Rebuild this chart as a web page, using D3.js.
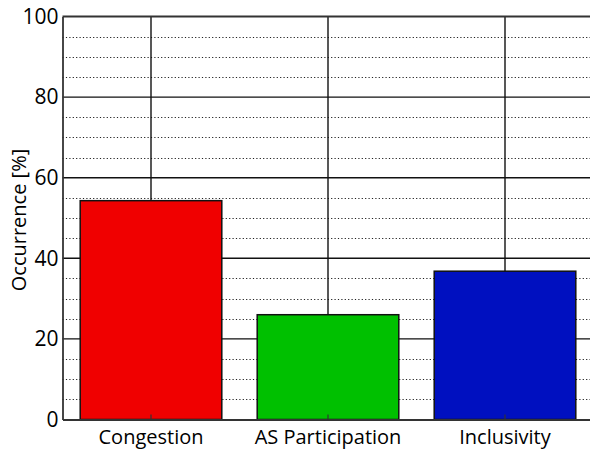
<!DOCTYPE html>
<html>
<head>
<meta charset="utf-8">
<script src="https://cdn.jsdelivr.net/npm/d3@7/dist/d3.min.js"></script>
<style>
  html, body { margin: 0; padding: 0; background: #fff; }
  svg { display: block; }
  text { font-family: "Open Sans", "DejaVu Sans", sans-serif; fill: #000; }
</style>
</head>
<body>
<svg id="chart" width="590" height="452"></svg>
<script>
// Share of occurrences per topic
const categories = ["Congestion", "AS Participation", "Inclusivity"];
const occurrence = [54.3, 26, 36.8];
const barColors = ["#f00000", "#00c000", "#0010c0"];
const yMajorTicks = [0, 20, 40, 60, 80, 100];

const svg = d3.select("#chart");
const plotLeft = 62.5, plotTop = 16.5, plotBottom = 419.5, step = 177;

const x = d3.scaleBand()
  .domain(categories)
  .range([plotLeft, plotLeft + step * categories.length])
  .paddingInner(0.2)
  .paddingOuter(0.1);

const y = d3.scaleLinear().domain([0, 100]).range([plotBottom, plotTop]);
const xr = x.range();

// minor dotted grid every 5 %
const minor = y.ticks(20).filter(v => !yMajorTicks.includes(v));
svg.append("g").selectAll("line").data(minor).join("line")
  .attr("x1", xr[0]).attr("x2", xr[1])
  .attr("y1", d => Math.round(y(d)) + 0.5).attr("y2", d => Math.round(y(d)) + 0.5)
  .attr("stroke", "#222").attr("stroke-width", 1.2)
  .attr("stroke-dasharray", "1.2,2.2");

// major solid grid
svg.append("g").selectAll("line").data(yMajorTicks.slice(1, -1)).join("line")
  .attr("x1", xr[0]).attr("x2", xr[1])
  .attr("y1", d => y(d)).attr("y2", d => y(d))
  .attr("stroke", "#111").attr("stroke-width", 1.4);

// vertical grid at category centres
svg.append("g").selectAll("line").data(categories).join("line")
  .attr("x1", d => x(d) + x.bandwidth() / 2).attr("x2", d => x(d) + x.bandwidth() / 2)
  .attr("y1", plotTop).attr("y2", plotBottom)
  .attr("stroke", "#111").attr("stroke-width", 1.4);

// bars
svg.append("g").selectAll("rect").data(categories).join("rect")
  .attr("x", d => x(d))
  .attr("y", (d, i) => y(occurrence[i]))
  .attr("width", x.bandwidth())
  .attr("height", (d, i) => y(0) - y(occurrence[i]))
  .attr("fill", (d, i) => barColors[i])
  .attr("stroke", "#111").attr("stroke-width", 1.5);

// x axis with inward ticks
const xAxis = svg.append("g").attr("transform", `translate(0,${plotBottom})`)
  .call(d3.axisBottom(x).tickSize(-5).tickSizeOuter(0).tickPadding(10));
xAxis.select(".domain").attr("stroke", "#333").attr("stroke-width", 1.8);
xAxis.selectAll(".tick line").attr("stroke", "#333").attr("stroke-width", 1.2);
xAxis.selectAll(".tick text").attr("font-size", 20).attr("font-family", "'Open Sans', sans-serif");

// y axis
const yAxis = svg.append("g").attr("transform", `translate(${plotLeft},0)`)
  .call(d3.axisLeft(y).tickValues(yMajorTicks).tickSize(0).tickSizeOuter(0).tickPadding(4));
yAxis.select(".domain").attr("stroke", "#333").attr("stroke-width", 1.8);
yAxis.selectAll(".tick text").attr("font-size", 21).attr("font-family", "'Open Sans', sans-serif");

// top frame line
svg.append("line")
  .attr("x1", xr[0]).attr("x2", xr[1]).attr("y1", plotTop).attr("y2", plotTop)
  .attr("stroke", "#333").attr("stroke-width", 1.8);

// y axis title
svg.append("text")
  .attr("transform", `translate(26,${(plotTop + plotBottom) / 2 + 2}) rotate(-90)`)
  .attr("text-anchor", "middle")
  .attr("font-size", 20)
  .text("Occurrence [%]");
</script>
</body>
</html>
